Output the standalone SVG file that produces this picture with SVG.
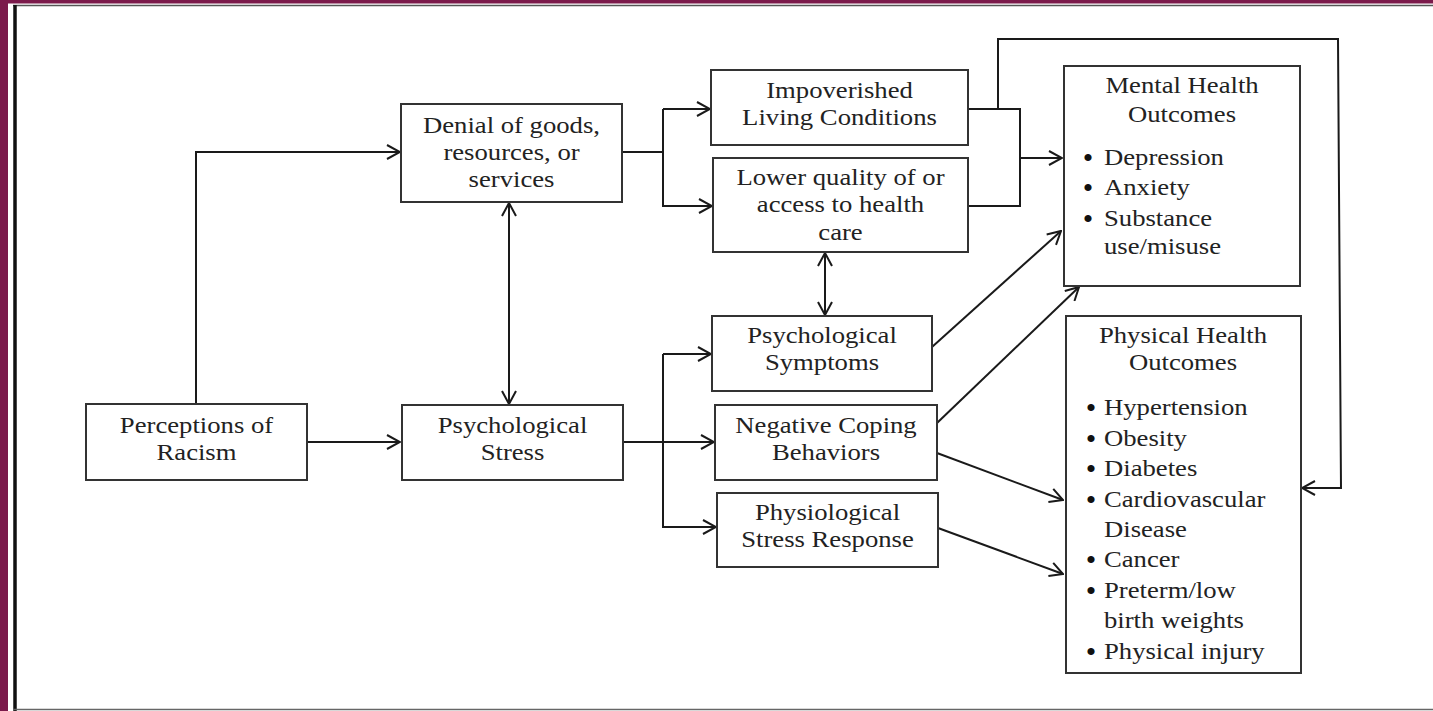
<svg xmlns="http://www.w3.org/2000/svg" width="1433" height="711" viewBox="0 0 1433 711">
<style>
.box{fill:#fff;stroke:#333;stroke-width:2}
.t{font-family:"Liberation Serif","Times New Roman",serif;font-size:23px;fill:#222}
.c{text-anchor:middle}
.b{font-family:"Liberation Serif","Times New Roman",serif;font-size:30px;fill:#111;text-anchor:middle}
.ln{fill:none;stroke:#1a1a1a;stroke-width:2}
.ar{marker-end:url(#ah)}
.bi{marker-end:url(#ah);marker-start:url(#ah)}
</style>
<defs>
<marker id="ah" viewBox="0 0 16 16" refX="15" refY="8" markerWidth="16" markerHeight="16" markerUnits="userSpaceOnUse" orient="auto-start-reverse">
<path d="M2,1 L15,8 L2,15" fill="none" stroke="#1a1a1a" stroke-width="2"/>
</marker>
</defs>
<rect width="1433" height="711" fill="#fff"/>
<g id="frame">
<rect x="0" y="0" width="1433" height="3.5" fill="#7b1a4b"/>
<rect x="0" y="0" width="8" height="711" fill="#7b1a4b"/>
<line x1="13" y1="5.5" x2="1433" y2="5.5" stroke="#555" stroke-width="1.5"/>
<line x1="15" y1="5" x2="15" y2="711" stroke="#111" stroke-width="3.5"/>
<line x1="13" y1="709.5" x2="1433" y2="709.5" stroke="#666" stroke-width="1.5"/>
</g>
<g id="connectors">
<path class="ln ar" d="M196,404 V152 H400"/>
<path class="ln ar" d="M307,442 H400"/>
<path class="ln bi" d="M509,203 V404"/>
<path class="ln" d="M622,152 H663"/>
<path class="ln ar" d="M663,109 H710"/>
<path class="ln ar" d="M663,109 V206 H712"/>
<path class="ln ar" d="M623,442 H714"/>
<path class="ln ar" d="M663,354 H711"/>
<path class="ln ar" d="M663,354 V527 H716"/>
<path class="ln bi" d="M825,253 V315"/>
<path class="ln" d="M968,109 H1020 V206 H968"/>
<path class="ln ar" d="M1020,158 H1062"/>
<path class="ln ar" d="M998,109 V39 H1338 L1341,488 H1302"/>
<path class="ln ar" d="M932,347 L1061,231"/>
<path class="ln ar" d="M937,423 L1079,287"/>
<path class="ln ar" d="M937,453 L1063,500"/>
<path class="ln ar" d="M938,528 L1063,574"/>
</g>
<g id="perceptions">
<rect class="box" x="86" y="404" width="221" height="76"/>
<text class="t c" transform="translate(196.5 0) scale(1.16 1)"><tspan x="0" y="433">Perceptions of</tspan><tspan x="0" y="460">Racism</tspan></text>
</g>
<g id="denial">
<rect class="box" x="401" y="104" width="221" height="98"/>
<text class="t c" transform="translate(511.5 0) scale(1.16 1)"><tspan x="0" y="133">Denial of goods,</tspan><tspan x="0" y="160">resources, or</tspan><tspan x="0" y="187">services</tspan></text>
</g>
<g id="stress">
<rect class="box" x="402" y="405" width="221" height="75"/>
<text class="t c" transform="translate(512.5 0) scale(1.16 1)"><tspan x="0" y="433">Psychological</tspan><tspan x="0" y="460">Stress</tspan></text>
</g>
<g id="impoverished">
<rect class="box" x="711" y="70" width="257" height="75"/>
<text class="t c" transform="translate(839.5 0) scale(1.16 1)"><tspan x="0" y="98">Impoverished</tspan><tspan x="0" y="125">Living Conditions</tspan></text>
</g>
<g id="healthcare">
<rect class="box" x="713" y="158" width="255" height="94"/>
<text class="t c" transform="translate(840.5 0) scale(1.16 1)"><tspan x="0" y="185">Lower quality of or</tspan><tspan x="0" y="212">access to health</tspan><tspan x="0" y="240">care</tspan></text>
</g>
<g id="symptoms">
<rect class="box" x="712" y="316" width="220" height="75"/>
<text class="t c" transform="translate(822 0) scale(1.16 1)"><tspan x="0" y="343">Psychological</tspan><tspan x="0" y="370">Symptoms</tspan></text>
</g>
<g id="coping">
<rect class="box" x="715" y="405" width="222" height="75"/>
<text class="t c" transform="translate(826 0) scale(1.16 1)"><tspan x="0" y="433">Negative Coping</tspan><tspan x="0" y="460">Behaviors</tspan></text>
</g>
<g id="physiological">
<rect class="box" x="717" y="493" width="221" height="74"/>
<text class="t c" transform="translate(827.5 0) scale(1.16 1)"><tspan x="0" y="520">Physiological</tspan><tspan x="0" y="547">Stress Response</tspan></text>
</g>
<g id="mental">
<rect class="box" x="1064" y="66" width="236" height="220"/>
<text class="t c" transform="translate(1182 0) scale(1.16 1)"><tspan x="0" y="93">Mental Health</tspan><tspan x="0" y="122">Outcomes</tspan></text>
<text class="b"><tspan x="1088" y="168">•</tspan><tspan x="1088" y="198">•</tspan><tspan x="1088" y="229">•</tspan></text>
<text class="t" transform="translate(1104 0) scale(1.16 1)"><tspan x="0" y="165">Depression</tspan><tspan x="0" y="195">Anxiety</tspan><tspan x="0" y="226">Substance</tspan><tspan x="0" y="254">use/misuse</tspan></text>
</g>
<g id="physical">
<rect class="box" x="1066" y="316" width="235" height="357"/>
<text class="t c" transform="translate(1183 0) scale(1.16 1)"><tspan x="0" y="343">Physical Health</tspan><tspan x="0" y="370">Outcomes</tspan></text>
<text class="b"><tspan x="1091" y="418">•</tspan><tspan x="1091" y="449">•</tspan><tspan x="1091" y="479">•</tspan><tspan x="1091" y="510">•</tspan><tspan x="1091" y="570">•</tspan><tspan x="1091" y="601">•</tspan><tspan x="1091" y="662">•</tspan></text>
<text class="t" transform="translate(1104 0) scale(1.16 1)"><tspan x="0" y="415">Hypertension</tspan><tspan x="0" y="446">Obesity</tspan><tspan x="0" y="476">Diabetes</tspan><tspan x="0" y="507">Cardiovascular</tspan><tspan x="0" y="537">Disease</tspan><tspan x="0" y="567">Cancer</tspan><tspan x="0" y="598">Preterm/low</tspan><tspan x="0" y="628">birth weights</tspan><tspan x="0" y="659">Physical injury</tspan></text>
</g>
</svg>
